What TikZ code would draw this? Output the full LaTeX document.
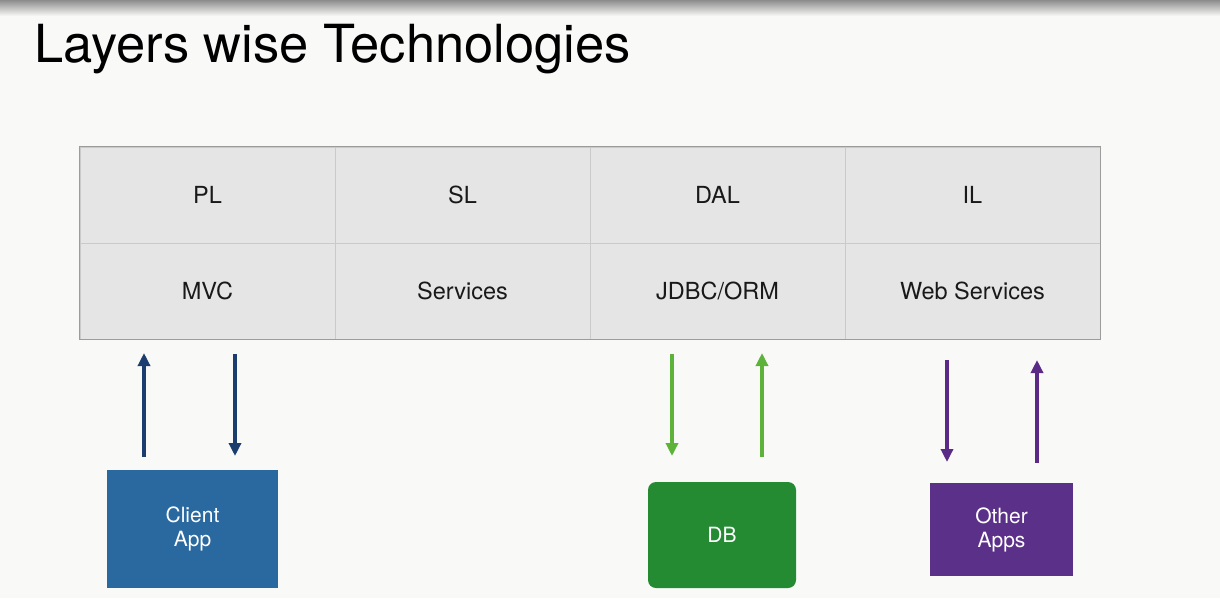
\documentclass[tikz,border=0pt]{standalone}
\usepackage{fontspec}
\setmainfont{TeX Gyre Heros}
\usetikzlibrary{arrows.meta}
\definecolor{bgc}{HTML}{F9F9F8}
\definecolor{cellc}{HTML}{E5E5E5}
\definecolor{outerc}{HTML}{9C9C9C}
\definecolor{innerc}{HTML}{CACACA}
\definecolor{navy}{HTML}{1C3E6E}
\definecolor{clientc}{HTML}{2A69A0}
\definecolor{lgreen}{HTML}{5DB33A}
\definecolor{dbc}{HTML}{248B33}
\definecolor{purp}{HTML}{5A2A86}
\definecolor{otherc}{HTML}{5B3089}
\tikzset{
  cell/.style={draw=innerc, line width=0.8pt, fill=cellc, minimum width=255pt, minimum height=96pt, inner sep=0pt, font=\fontsize{23.5}{28}\selectfont, text=black!90},
  appbox/.style={inner sep=0pt, text=white, font=\fontsize{21}{25}\selectfont, align=center},
  flow/.style={line width=3.3pt, -{Triangle[width=12pt,length=13pt]}}
}
\begin{document}
\begin{tikzpicture}[x=1pt,y=-1pt]
\fill[bgc] (0,0) rectangle (1220,598);
\useasboundingbox (0,0) rectangle (1220,598);
\shade[top color=black!45, bottom color=bgc] (0,0) rectangle (1220,16);
\node[anchor=base west, inner sep=0pt, font=\fontsize{52.5}{58}\selectfont] (title) at (34,62) {Layers wise Technologies};

% table
\node[cell] (pl)  at (207.5,195) {PL};
\node[cell] (sl)  at (462.5,195) {SL};
\node[cell] (dal) at (717.5,195) {DAL};
\node[cell] (il)  at (972.5,195) {IL};
\node[cell] (mvc) at (207.5,291) {MVC};
\node[cell] (svc) at (462.5,291) {Services};
\node[cell] (orm) at (717.5,291) {JDBC/ORM};
\node[cell] (ws)  at (972.5,291) {Web Services};
\draw[outerc, line width=1pt] (pl.north west) rectangle (ws.south east);

% boxes
\node[appbox, fill=clientc, minimum width=171pt, minimum height=118pt] (client) at (192.5,529) {Client\\[-1pt]App};
\node[appbox, fill=dbc, rounded corners=8pt, minimum width=148pt, minimum height=106pt] (db) at (722,535) {DB};
\node[appbox, fill=otherc, minimum width=143pt, minimum height=93pt] (other) at (1001.5,529.5) {Other\\[-1pt]Apps};

% arrow endpoints
\coordinate (c1a) at (144,457); \coordinate (c1b) at (144,353);
\coordinate (c2a) at (235,354); \coordinate (c2b) at (235,456);
\coordinate (d1a) at (672,354); \coordinate (d1b) at (672,456);
\coordinate (d2a) at (762,457); \coordinate (d2b) at (762,353);
\coordinate (o1a) at (947,360); \coordinate (o1b) at (947,462);
\coordinate (o2a) at (1037,463); \coordinate (o2b) at (1037,360);

\draw[flow, navy] (c1a) -- (c1b);
\draw[flow, navy] (c2a) -- (c2b);
\draw[flow, lgreen] (d1a) -- (d1b);
\draw[flow, lgreen] (d2a) -- (d2b);
\draw[flow, purp] (o1a) -- (o1b);
\draw[flow, purp] (o2a) -- (o2b);
\end{tikzpicture}
\end{document}
